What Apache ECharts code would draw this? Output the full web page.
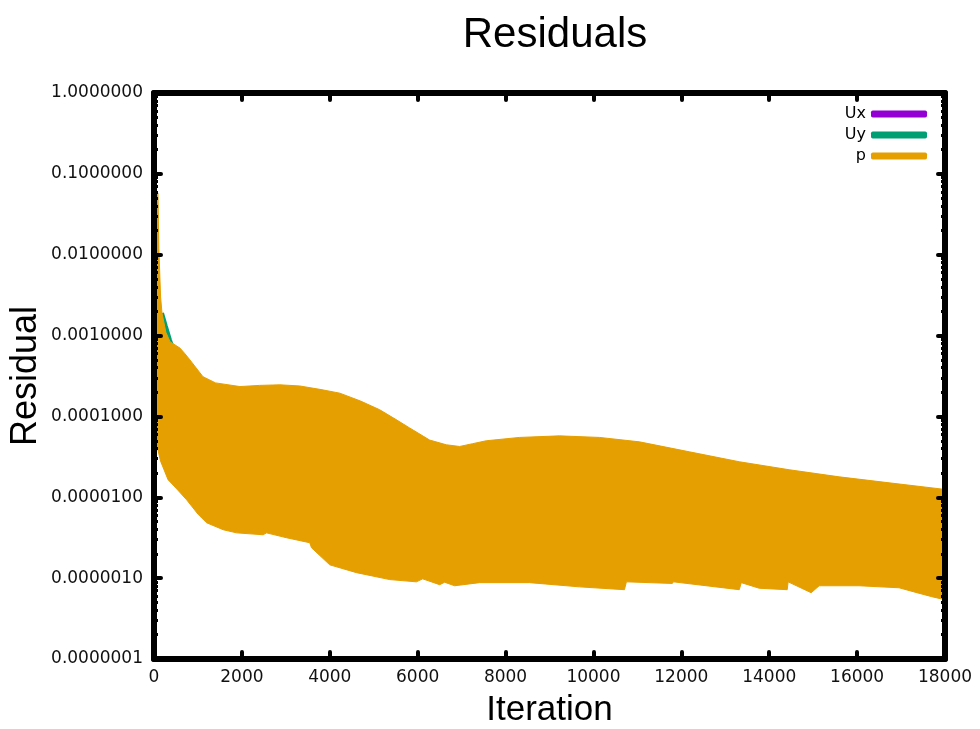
<!DOCTYPE html>
<html><head><meta charset="utf-8">
<script src="https://cdn.jsdelivr.net/npm/echarts@6/dist/echarts.min.js"></script>
<style>html,body{margin:0;padding:0;background:#fff}#c{width:980px;height:729px}</style>
</head><body><div id="c"></div>
<script>
const seriesNames = ['Ux', 'Uy', 'p'];
const seriesColors = ['#9400d3', '#009e73', '#e69f00'];
const xMin = 0, xMax = 18000, xStep = 2000;
const yMin = 1e-7, yMax = 1;

// p: upper and lower envelope of the rapidly oscillating residual
const pUpper = [
  [0, 0.06], [90, 0.058], [110, 0.012], [150, 0.003], [182, 0.0019],
  [270, 0.0011], [364, 0.00084], [591, 0.0007], [700, 0.0006], [818, 0.0005], [1114, 0.00031],
  [1400, 0.00026], [1955, 0.000234], [2400, 0.000242], [2864, 0.000246], [3318, 0.000238],
  [3800, 0.000215], [4227, 0.000194], [4700, 0.000155], [5136, 0.000121], [5500, 0.000092],
  [5818, 0.000072], [6273, 0.000051], [6652, 0.0000446], [6955, 0.0000425], [7250, 0.000046],
  [7561, 0.00005], [8318, 0.000055], [9227, 0.0000575], [10136, 0.000055],
  [11045, 0.0000485], [12182, 0.0000365], [13318, 0.0000275], [14455, 0.0000219],
  [15591, 0.0000179], [16727, 0.0000151], [18000, 0.0000125]
];
const pLower = [
  [0, 0.00008], [40, 0.00005], [150, 0.000028], [320, 0.0000165], [500, 0.000013],
  [743, 0.0000093], [1000, 0.0000062], [1198, 0.00000484], [1575, 0.00000397],
  [1880, 0.00000363], [2484, 0.00000344], [2561, 0.00000363], [3016, 0.00000316],
  [3545, 0.00000274], [3584, 0.00000238], [4000, 0.00000146], [4607, 0.00000117],
  [5364, 0.00000096], [5970, 0.0000009], [6114, 0.00000098], [6500, 0.00000083],
  [6614, 0.00000089], [6841, 0.000000805], [7409, 0.00000088], [8545, 0.00000088],
  [9682, 0.00000078], [10705, 0.00000072], [10750, 0.0000009], [11795, 0.00000086],
  [11820, 0.0000009], [13318, 0.00000072], [13364, 0.00000088], [13773, 0.00000075],
  [14409, 0.00000072], [14430, 0.0000009], [14955, 0.00000066], [15136, 0.000000805],
  [16045, 0.000000805], [16955, 0.00000076], [17364, 0.00000066], [17700, 0.00000059],
  [18000, 0.00000054]
];
const uxValues = [
  [20, 0.01], [80, 0.002], [200, 0.0009], [400, 0.0005], [1000, 0.00015],
  [2000, 0.00006], [4000, 0.00004], [6000, 0.000015], [8000, 0.000015],
  [10000, 0.000015], [12000, 0.00001], [14000, 0.000008], [16000, 0.000006], [18000, 0.000005]
];
const uyValues = [
  [182, 0.0019], [270, 0.0013], [364, 0.00088], [420, 0.00072],
  [600, 0.00055], [1000, 0.0002], [2000, 0.00008], [4000, 0.00005], [6000, 0.00002],
  [8000, 0.00002], [10000, 0.00002], [12000, 0.000015], [14000, 0.00001],
  [16000, 0.000008], [18000, 0.000006]
];

const FONT = 'DejaVu Sans';
const NAMEFONT = 'Liberation Sans';
const tickStyle = { show: true, inside: true, length: 7, lineStyle: { color: '#000', width: 4, cap: 'round' } };
const lineStyleAxis = { show: true, onZero: false, lineStyle: { color: '#000', width: 6 } };
const minorStyle = { show: true, splitNumber: 9, length: 4, lineStyle: { color: '#000', width: 3 } };

const chart = echarts.init(document.getElementById('c'));
chart.setOption({
  animation: false,
  backgroundColor: '#fff',
  title: {
    text: 'Residuals', left: 550, textAlign: 'center', top: 9,
    textStyle: { fontFamily: NAMEFONT, fontSize: 42, fontWeight: 'normal', color: '#000' }
  },
  legend: {
    orient: 'vertical', right: 48, top: 101, align: 'right',
    itemWidth: 56, itemHeight: 7, itemGap: 5,
    textStyle: { fontFamily: FONT, fontSize: 16, color: '#000', lineHeight: 16 },
    data: seriesNames.map((n, i) => ({ name: n, icon: 'roundRect', itemStyle: { color: seriesColors[i] } }))
  },
  grid: { left: 154, right: 35, top: 93, bottom: 70, containLabel: false, outerBoundsMode: 'none' },
  xAxis: [
    {
      type: 'value', min: xMin, max: xMax, interval: xStep, position: 'bottom',
      name: 'Iteration', nameLocation: 'middle', nameGap: 34,
      nameTextStyle: { fontFamily: NAMEFONT, fontSize: 35, color: '#000' },
      axisLine: lineStyleAxis, axisTick: tickStyle, splitLine: { show: false },
      axisLabel: { fontFamily: FONT, fontSize: 17, color: '#111', margin: 10, formatter: v => String(v) },
      z: 10
    },
    {
      type: 'value', min: xMin, max: xMax, interval: xStep, position: 'top',
      axisLine: lineStyleAxis, axisTick: tickStyle, splitLine: { show: false },
      axisLabel: { show: false }, z: 10
    }
  ],
  yAxis: [
    {
      type: 'log', logBase: 10, min: yMin, max: yMax, interval: 1, position: 'left',
      name: 'Residual', nameLocation: 'middle', nameGap: 110, nameRotate: 90, nameMoveOverlap: false,
      nameTextStyle: { fontFamily: NAMEFONT, fontSize: 36, color: '#000' },
      axisLine: lineStyleAxis, axisTick: tickStyle, splitLine: { show: false },
      minorTick: minorStyle,
      axisLabel: { fontFamily: FONT, fontSize: 17, color: '#111', margin: 11, formatter: v => v.toFixed(7) },
      z: 10
    },
    {
      type: 'log', logBase: 10, min: yMin, max: yMax, interval: 1, position: 'right',
      axisLine: lineStyleAxis, axisTick: tickStyle, splitLine: { show: false },
      minorTick: minorStyle,
      axisLabel: { show: false }, z: 10
    }
  ],
  series: [
    { name: 'Ux', type: 'line', data: uxValues, showSymbol: false, z: 2,
      lineStyle: { color: seriesColors[0], width: 4 }, itemStyle: { color: seriesColors[0] } },
    { name: 'Uy', type: 'line', data: uyValues, showSymbol: false, z: 2,
      lineStyle: { color: seriesColors[1], width: 4 }, itemStyle: { color: seriesColors[1] } },
    { name: 'p', type: 'custom', z: 3, itemStyle: { color: seriesColors[2] },
      data: [[pUpper[0][0], pUpper[0][1]]],
      renderItem: function (params, api) {
        if (params.dataIndex !== 0) return;
        const pts = [];
        pUpper.forEach(d => pts.push(api.coord(d)));
        for (let i = pLower.length - 1; i >= 0; i--) pts.push(api.coord(pLower[i]));
        return { type: 'polygon', shape: { points: pts },
          style: { fill: seriesColors[2], stroke: seriesColors[2], lineWidth: 1 } };
      }
    }
  ]
});
</script></body></html>
